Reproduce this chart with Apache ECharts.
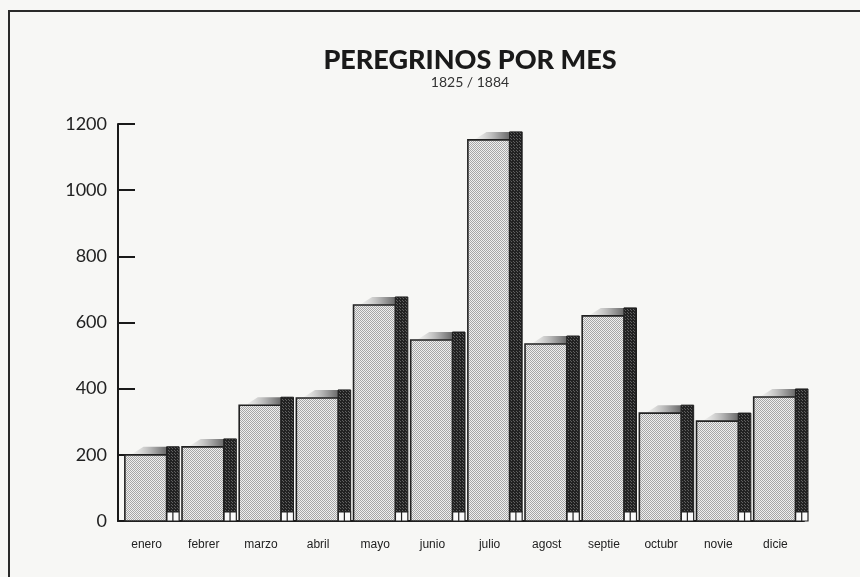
<!DOCTYPE html>
<html>
<head>
<meta charset="utf-8">
<script src="https://cdn.jsdelivr.net/npm/echarts@6/dist/echarts.min.js"></script>
<style>
  html, body { margin: 0; padding: 0; background: #f7f7f5; }
  #chart { width: 860px; height: 577px; }
</style>
</head>
<body>
<div id="chart"></div>
<script>
// datos
const meses = ['enero', 'febrer', 'marzo', 'abril', 'mayo', 'junio', 'julio', 'agost', 'septie', 'octubr', 'novie', 'dicie'];
const peregrinos = [200, 224, 350, 372, 653, 547, 1152, 535, 620, 326, 302, 375];
const ticksY = [0, 200, 400, 600, 800, 1000, 1200];

// tramas punteadas (imitan el rayado de la imagen)
function trama(fondo, punto, n) {
  const c = document.createElement('canvas');
  c.width = n; c.height = n;
  const ctx = c.getContext('2d');
  ctx.fillStyle = fondo;
  ctx.fillRect(0, 0, n, n);
  ctx.fillStyle = punto;
  ctx.fillRect(0, 0, 1, 1);
  ctx.fillRect(Math.floor(n / 2), Math.floor(n / 2), 1, 1);
  return c;
}
const tramaFrente = trama('#efefef', '#a6a6a6', 2);
const tramaLado = trama('#222222', '#606060', 3);

var chartDom = document.getElementById('chart');
var myChart = echarts.init(chartDom);
var option;

function barra3d(params, api) {
  const i = api.value(0);
  const v = api.value(1);
  const top = api.coord([i, v]);
  const base = api.coord([i, 0]);
  const w = api.size([1, 0])[0];
  const x0 = top[0] - w * 0.38;
  const x1 = top[0] + w * 0.35;
  const d = w * 0.22;
  const dy = 8;
  const pie = 9;
  return {
    type: 'group',
    children: [
      {
        type: 'polygon',
        shape: { points: [[x0 + 6, top[1]], [x0 + 6 + d, top[1] - dy], [x1 + d, top[1] - dy], [x1, top[1]]] },
        style: {
          fill: new echarts.graphic.LinearGradient(0, 0, 1, 0, [
            { offset: 0, color: 'rgba(200,200,200,0.1)' },
            { offset: 0.5, color: '#a0a0a0' },
            { offset: 1, color: '#2e2e2e' }
          ])
        }
      },
      {
        type: 'rect',
        shape: { x: x1, y: top[1] - dy, width: d, height: base[1] - pie - (top[1] - dy) },
        style: { fill: { image: tramaLado, repeat: 'repeat' }, stroke: '#1e1e1e', lineWidth: 1 }
      },
      {
        type: 'rect',
        shape: { x: x1, y: base[1] - pie, width: d, height: pie },
        style: { fill: '#fafafa', stroke: '#222', lineWidth: 1.2 }
      },
      {
        type: 'line',
        shape: { x1: x1 + d / 2, y1: base[1] - pie, x2: x1 + d / 2, y2: base[1] },
        style: { stroke: '#222', lineWidth: 1.2 }
      },
      {
        type: 'rect',
        shape: { x: x0, y: top[1], width: x1 - x0, height: base[1] - top[1] },
        style: { fill: { image: tramaFrente, repeat: 'repeat' }, stroke: '#222', lineWidth: 1.6 }
      }
    ]
  };
}

option = {
  backgroundColor: '#f7f7f5',
  animation: false,
  title: {
    text: 'PEREGRINOS POR MES',
    subtext: '1825 / 1884',
    left: 465,
    top: 42,
    textAlign: 'center',
    itemGap: 1,
    textStyle: { fontFamily: 'Lato', fontWeight: 900, fontSize: 27, color: '#1a1a1a' },
    subtextStyle: { fontFamily: 'Lato', fontSize: 14, color: '#333' }
  },
  grid: { left: 118, right: 56, top: 124, bottom: 56 },
  xAxis: {
    type: 'category',
    data: meses,
    axisLine: { lineStyle: { color: '#1a1a1a', width: 2 } },
    axisTick: { show: false },
    axisLabel: { fontFamily: 'Liberation Sans', fontSize: 12, color: '#222', margin: 18 }
  },
  yAxis: {
    type: 'value',
    min: ticksY[0],
    max: ticksY[ticksY.length - 1],
    interval: 200,
    splitLine: { show: false },
    axisLine: { show: true, lineStyle: { color: '#1a1a1a', width: 2 } },
    axisTick: { show: true, inside: true, length: 17, lineStyle: { color: '#1a1a1a', width: 2 } },
    axisLabel: {
      fontFamily: 'Lato', fontSize: 18, color: '#222', margin: 11,
      formatter: function (val) { return String(val); }
    }
  },
  graphic: [
    {
      type: 'rect',
      shape: { x: 9, y: 11, width: 900, height: 600 },
      style: { fill: null, stroke: '#2a2a2a', lineWidth: 2 },
      silent: true
    }
  ],
  series: [
    {
      type: 'custom',
      renderItem: barra3d,
      encode: { x: 0, y: 1 },
      data: meses.map(function (m, i) { return [i, peregrinos[i]]; })
    }
  ]
};

option && myChart.setOption(option);
</script>
</body>
</html>
